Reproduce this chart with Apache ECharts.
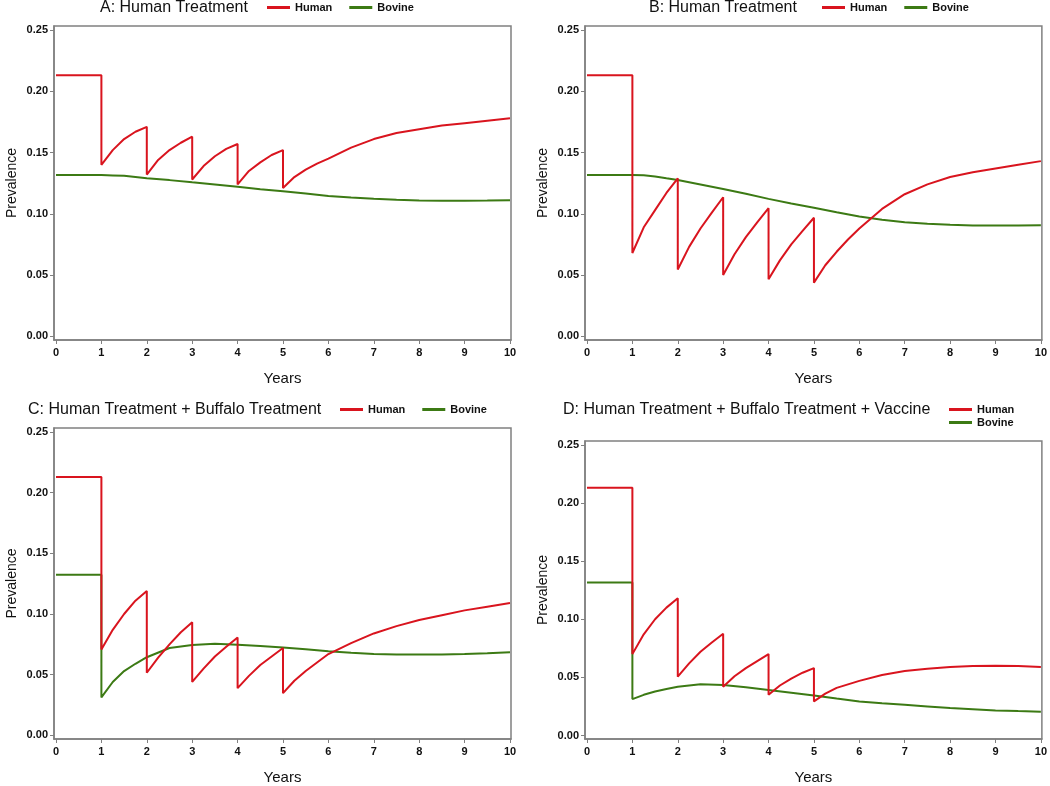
<!DOCTYPE html>
<html>
<head>
<meta charset="utf-8">
<script src="https://cdn.jsdelivr.net/npm/echarts@6/dist/echarts.min.js"></script>
<style>html,body{margin:0;padding:0;background:#fff;}#c{width:1050px;height:786px;}</style>
</head>
<body>
<div id="c"></div>
<script>
// ---- data ----
const panelTitles = [
  'A: Human Treatment',
  'B: Human Treatment',
  'C: Human Treatment + Buffalo Treatment',
  'D: Human Treatment + Buffalo Treatment + Vaccine'
];
const seriesNames = ['Human', 'Bovine'];
const xTicks = [0,1,2,3,4,5,6,7,8,9,10];
const yTicks = [0, 0.05, 0.10, 0.15, 0.20, 0.25];

const yearsHuman = [0,1, 1,1.25,1.5,1.75,2, 2,2.25,2.5,2.75,3, 3,3.25,3.5,3.75,4, 4,4.25,4.5,4.75,5, 5,5.25,5.5,5.75,6, 6.5,7,7.5,8,8.5,9,9.5,10];
const humanA = [0.213,0.213, 0.140,0.152,0.161,0.167,0.171, 0.132,0.144,0.152,0.158,0.163, 0.128,0.139,0.147,0.153,0.157, 0.124,0.135,0.142,0.148,0.152, 0.121,0.130,0.136,0.141,0.145, 0.154,0.161,0.166,0.169,0.172,0.174,0.176,0.178];
const humanB = [0.213,0.213, 0.068,0.089,0.103,0.117,0.129, 0.0546,0.073,0.088,0.101,0.1135, 0.050,0.067,0.081,0.093,0.1046, 0.0465,0.062,0.075,0.086,0.0968, 0.0438,0.058,0.069,0.079,0.088, 0.104,0.116,0.124,0.130,0.134,0.137,0.140,0.143];
const humanC = [0.213,0.213, 0.0707,0.087,0.100,0.111,0.119, 0.0516,0.064,0.075,0.085,0.0932, 0.044,0.055,0.065,0.073,0.0807, 0.0389,0.049,0.058,0.065,0.072, 0.0348,0.045,0.053,0.060,0.067, 0.076,0.084,0.090,0.095,0.099,0.103,0.106,0.109];
const humanD = [0.213,0.213, 0.070,0.087,0.100,0.110,0.118, 0.0506,0.062,0.072,0.080,0.0875, 0.042,0.051,0.058,0.064,0.070, 0.035,0.043,0.049,0.054,0.058, 0.0293,0.036,0.041,0.044,0.047, 0.052,0.0555,0.0575,0.059,0.0598,0.060,0.0597,0.059];

const yearsBovine = [0,1, 1,1.25,1.5,1.75,2, 2.5,3,3.5,4,4.5,5,5.5,6,6.5,7,7.5,8,8.5,9,9.5,10];
const bovineA = [0.1316,0.1316, 0.1316,0.1313,0.131,0.130,0.129, 0.1275,0.1257,0.124,0.122,0.120,0.1184,0.1165,0.1146,0.1133,0.1122,0.1114,0.1108,0.1106,0.1107,0.1108,0.111];
const bovineB = [0.1316,0.1316, 0.1316,0.1314,0.1305,0.129,0.1276, 0.124,0.1203,0.1163,0.1122,0.1085,0.1049,0.1012,0.0978,0.0952,0.0932,0.0918,0.091,0.0905,0.0905,0.0905,0.0906];
const bovineC = [0.1323,0.1323, 0.0313,0.044,0.053,0.059,0.0644, 0.072,0.0745,0.0755,0.0747,0.0737,0.0725,0.071,0.0693,0.068,0.0671,0.0667,0.0666,0.0667,0.067,0.0677,0.0685];
const bovineD = [0.1315,0.1315, 0.0313,0.035,0.0378,0.040,0.042, 0.044,0.0435,0.0415,0.0392,0.0368,0.0344,0.0318,0.0293,0.0278,0.0264,0.025,0.0236,0.0226,0.0216,0.021,0.0205];

const humanAll = [humanA, humanB, humanC, humanD];
const bovineAll = [bovineA, bovineB, bovineC, bovineD];

// ---- layout ----
const FONT = '"Liberation Sans", Arial, sans-serif';
const RED = '#d9141e';
const GREEN = '#3c7a14';
const AX = '#808080';
const grids = [
  {left: 54, top: 26, width: 457, height: 314},
  {left: 585, top: 26, width: 458, height: 314},
  {left: 54, top: 428, width: 457, height: 314},
  {left: 585, top: 441, width: 458, height: 301}
];
const titlePos = [
  {left: 100, top: 0}, {left: 649, top: 0}, {left: 28, top: 402}, {left: 563, top: 402}
];
const legendPos = [
  {left: 267, top: 2, orient: 'horizontal'},
  {left: 822, top: 2, orient: 'horizontal'},
  {left: 340, top: 404, orient: 'horizontal'},
  {left: 949, top: 404, orient: 'vertical'}
];

const zip = (xs, ys) => xs.map((x, i) => [x, ys[i]]);

const option = {
  animation: false,
  backgroundColor: '#fff',
  title: panelTitles.map((t, i) => ({
    text: t, left: titlePos[i].left, top: titlePos[i].top, padding: 0,
    textStyle: {fontFamily: FONT, fontSize: 16, fontWeight: 'normal', color: '#111'}
  })),
  legend: legendPos.map(p => ({
    data: seriesNames, left: p.left, top: p.top, orient: p.orient, padding: 0,
    icon: 'rect', itemWidth: 23, itemHeight: 3, itemGap: p.orient === 'vertical' ? 2 : 17,
    selectedMode: false,
    textStyle: {fontFamily: FONT, fontSize: 11, fontWeight: 'bold', color: '#111'}
  })),
  grid: grids.map(g => Object.assign({show: true, borderColor: AX, borderWidth: 1.5, containLabel: false}, g)),
  xAxis: grids.map((g, i) => ({
    type: 'value', gridIndex: i, min: -0.044, max: 10.022,
    name: 'Years', nameLocation: 'middle', nameGap: 31,
    nameTextStyle: {fontFamily: FONT, fontSize: 15, color: '#111'},
    axisLine: {show: true, onZero: false, lineStyle: {color: AX, width: 1.5}},
    axisTick: {show: true, length: 4, customValues: xTicks, lineStyle: {color: AX}},
    axisLabel: {customValues: xTicks, margin: 7, fontFamily: FONT, fontSize: 11, fontWeight: 'bold', color: '#111'},
    splitLine: {show: false}
  })),
  yAxis: grids.map((g, i) => ({
    type: 'value', gridIndex: i, min: -0.003, max: 0.2533,
    name: 'Prevalence', nameLocation: 'middle', nameGap: 35,
    nameTextStyle: {fontFamily: FONT, fontSize: 14, color: '#111'},
    axisLine: {show: true, onZero: false, lineStyle: {color: AX, width: 1.5}},
    axisTick: {show: true, length: 4, customValues: yTicks, lineStyle: {color: AX}},
    axisLabel: {customValues: yTicks, margin: 6, fontFamily: FONT, fontSize: 11, fontWeight: 'bold', color: '#111',
      formatter: v => v.toFixed(2)},
    splitLine: {show: false}
  })),
  series: []
};

for (let i = 0; i < 4; i++) {
  option.series.push({
    name: 'Human', type: 'line', xAxisIndex: i, yAxisIndex: i, symbol: 'none',
    color: RED, itemStyle: {color: RED}, lineStyle: {color: RED, width: 2}, data: zip(yearsHuman, humanAll[i]), z: 3
  });
  option.series.push({
    name: 'Bovine', type: 'line', xAxisIndex: i, yAxisIndex: i, symbol: 'none',
    color: GREEN, itemStyle: {color: GREEN}, lineStyle: {color: GREEN, width: 2}, data: zip(yearsBovine, bovineAll[i]), z: 2
  });
}

const chart = echarts.init(document.getElementById('c'), null, {renderer: 'canvas'});
chart.setOption(option);
</script>
</body>
</html>
